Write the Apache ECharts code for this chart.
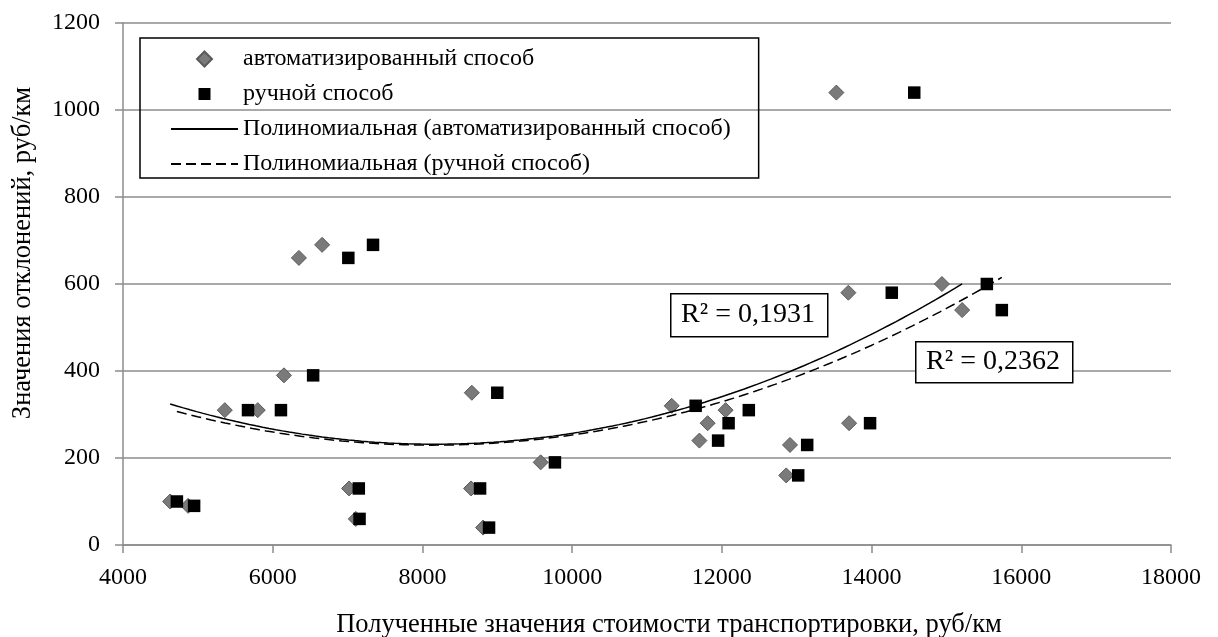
<!DOCTYPE html>
<html>
<head>
<meta charset="utf-8">
<script src="https://cdn.jsdelivr.net/npm/echarts@6/dist/echarts.min.js"></script>
<style>html,body{margin:0;padding:0;background:#fff;}#c{width:1218px;height:637px;}</style>
</head>
<body>
<div id="c"></div>
<script>
// ---- data ----
const autoCost   = [4630, 4870, 5360, 5800, 6150, 6350, 6660, 7020, 7110, 8650, 8660, 8810, 9580, 11330, 11700, 11810, 12050, 12860, 12910, 13530, 13690, 13700, 14940, 15210];
const autoDev    = [100, 90, 310, 310, 390, 660, 690, 130, 60, 130, 350, 40, 190, 320, 240, 280, 310, 160, 230, 1040, 580, 280, 600, 540];
const manualCost = [4720, 4950, 5670, 6110, 6540, 7010, 7340, 7150, 7160, 8770, 9000, 8890, 9770, 11650, 11950, 12090, 12360, 13020, 13140, 14570, 14270, 13980, 15540, 15740];
const manualDev  = [100, 90, 310, 310, 390, 660, 690, 130, 60, 130, 350, 40, 190, 320, 240, 280, 310, 160, 230, 1040, 580, 280, 600, 540];
const seriesNames = ['автоматизированный способ', 'ручной способ', 'Полиномиальная (автоматизированный способ)', 'Полиномиальная (ручной способ)'];
const r2Labels = ['R² = 0,1931', 'R² = 0,2362'];
const xTicks = {min: 4000, max: 18000, step: 2000};
const yTicks = {min: 0, max: 1200, step: 200};
const axisTitles = {x: 'Полученные значения стоимости транспортировки, руб/км', y: 'Значения отклонений, руб/км'};

// quadratic least-squares trend (as the spreadsheet trendline)
function polyFit2(xs, ys) {
  let n = xs.length, s = [0,0,0,0,0], t = [0,0,0];
  const m = xs.reduce((a,b)=>a+b,0)/n;
  for (let i = 0; i < n; i++) {
    const x = (xs[i]-m)/1000, y = ys[i];
    let p = 1;
    for (let k = 0; k < 5; k++) { s[k] += p; if (k < 3) t[k] += p*y; p *= x; }
  }
  const A = [[s[0],s[1],s[2],t[0]],[s[1],s[2],s[3],t[1]],[s[2],s[3],s[4],t[2]]];
  for (let i = 0; i < 3; i++) {
    for (let j = i+1; j < 3; j++) {
      const f = A[j][i]/A[i][i];
      for (let k = i; k < 4; k++) A[j][k] -= f*A[i][k];
    }
  }
  const c = [0,0,0];
  for (let i = 2; i >= 0; i--) {
    let v = A[i][3];
    for (let k = i+1; k < 3; k++) v -= A[i][k]*c[k];
    c[i] = v/A[i][i];
  }
  return x => { const u = (x-m)/1000; return c[0] + c[1]*u + c[2]*u*u; };
}
function trend(xs, ys) {
  const f = polyFit2(xs, ys);
  const lo = Math.min(...xs), hi = Math.max(...xs), out = [];
  for (let i = 0; i <= 120; i++) { const x = lo + (hi-lo)*i/120; out.push([x, f(x)]); }
  return out;
}
const zip = (a,b) => a.map((v,i)=>[v,b[i]]);

const FONT = 'Liberation Serif';
const GRIDC = '#8c8c8c';
const hiddenSym = {color: 'rgba(0,0,0,0)', borderWidth: 0, opacity: 0};
const chart = echarts.init(document.getElementById('c'), null, {renderer: 'canvas'});
chart.setOption({
  animation: false,
  backgroundColor: '#fff',
  textStyle: {fontFamily: FONT},
  grid: {left: 123, right: 47, top: 23, bottom: 92, containLabel: false, outerBoundsMode: 'none'},
  legend: {
    orient: 'vertical', left: 140, top: 38,
    padding: [9, 28, 2, 30],
    itemWidth: 67, itemHeight: 15, itemGap: 11,
    symbolKeepAspect: true,
    borderColor: '#000', borderWidth: 1.5,
    textStyle: {fontFamily: FONT, fontSize: 24, lineHeight: 24, color: '#000'},
    data: [
      {name: seriesNames[0], icon: 'path://M7.5,0 L15,7.5 L7.5,15 L0,7.5 Z'},
      {name: seriesNames[1], icon: 'path://M0,0 M15,15 M1.5,1.5 L13.5,1.5 L13.5,13.5 L1.5,13.5 Z'},
      {name: seriesNames[2], itemStyle: hiddenSym},
      {name: seriesNames[3], itemStyle: hiddenSym}
    ]
  },
  xAxis: {
    type: 'value', min: xTicks.min, max: xTicks.max, interval: xTicks.step,
    name: axisTitles.x, nameLocation: 'middle', nameGap: 67,
    nameTextStyle: {fontFamily: FONT, fontSize: 26.5, color: '#000', padding: [0, 0, 0, 44]},
    axisLine: {show: true, lineStyle: {color: GRIDC, width: 1.5}},
    axisTick: {show: true, inside: false, length: 8, lineStyle: {color: GRIDC, width: 1.5}},
    axisLabel: {fontFamily: FONT, fontSize: 24, color: '#000', margin: 21, formatter: v => String(v)},
    splitLine: {show: false}
  },
  yAxis: {
    type: 'value', min: yTicks.min, max: yTicks.max, interval: yTicks.step,
    name: axisTitles.y, nameLocation: 'middle', nameGap: 86, nameRotate: 90,
    nameTextStyle: {fontFamily: FONT, fontSize: 26.5, color: '#000', padding: [0, 0, 0, 62]},
    axisLine: {show: true, lineStyle: {color: GRIDC, width: 1.5}},
    axisTick: {show: true, inside: false, length: 8, lineStyle: {color: GRIDC, width: 1.5}},
    axisLabel: {fontFamily: FONT, fontSize: 24, color: '#000', margin: 23, formatter: v => String(v)},
    splitLine: {show: true, lineStyle: {color: GRIDC, width: 1.5}}
  },
  series: [
    {
      name: seriesNames[0], type: 'scatter', symbol: 'diamond', symbolSize: 15,
      itemStyle: {color: '#7a7a7a', borderColor: '#5a5a5a', borderWidth: 1, opacity: 1},
      data: zip(autoCost, autoDev), z: 3
    },
    {
      name: seriesNames[1], type: 'scatter', symbol: 'rect', symbolSize: 12.5,
      itemStyle: {color: '#000', opacity: 1},
      data: zip(manualCost, manualDev), z: 4
    },
    {
      name: seriesNames[2], type: 'line', showSymbol: false, symbol: 'none',
      lineStyle: {color: '#000', width: 1.5, type: 'solid'}, itemStyle: {color: '#000'},
      data: trend(autoCost, autoDev), z: 5
    },
    {
      name: seriesNames[3], type: 'line', showSymbol: false, symbol: 'none',
      lineStyle: {color: '#000', width: 1.5, type: [10, 5]}, itemStyle: {color: '#000'},
      data: trend(manualCost, manualDev), z: 5
    }
  ],
  graphic: [
    {type: 'rect', left: 670, top: 293, z: 10, shape: {width: 157, height: 43}, style: {fill: '#fff', stroke: '#000', lineWidth: 1.5}},
    {type: 'text', x: 748, y: 315, z: 11, style: {text: r2Labels[0], font: '28px "Liberation Serif"', fill: '#000', align: 'center', verticalAlign: 'middle'}},
    {type: 'rect', left: 915, top: 341, z: 10, shape: {width: 157, height: 41}, style: {fill: '#fff', stroke: '#000', lineWidth: 1.5}},
    {type: 'text', x: 993, y: 362, z: 11, style: {text: r2Labels[1], font: '28px "Liberation Serif"', fill: '#000', align: 'center', verticalAlign: 'middle'}}
  ]
});
</script>
</body>
</html>
